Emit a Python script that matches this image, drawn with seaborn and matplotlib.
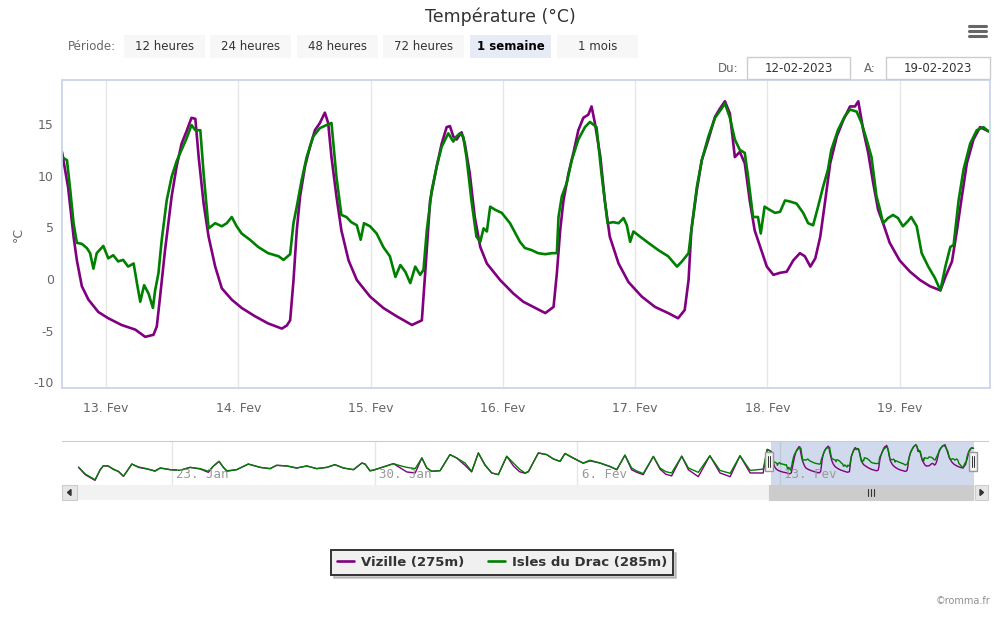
import pandas as pd
import matplotlib
matplotlib.use("Agg")
import matplotlib.pyplot as plt
from matplotlib import font_manager
from matplotlib.patches import Rectangle, Polygon
import seaborn as sns

# --- data --------------------------------------------------------------------
# main week: hours since 12-02-2023 00:00
viz_hours = [16.0, 17.1, 18.1, 18.7, 19.6, 20.8, 22.6, 24.4, 26.8, 29.3,
             31.1, 32.6, 33.2, 33.8, 34.7, 35.9, 36.8, 37.7, 38.6, 39.5,
             40.2, 40.8, 41.7, 42.6, 43.8, 45.0, 46.8, 48.6, 51.0, 53.4,
             55.9, 56.8, 57.4, 58.0, 58.6, 59.2, 60.1, 61.0, 61.9, 62.8,
             63.7, 64.3, 64.9, 65.8, 66.7, 68.0, 69.5, 71.9, 74.3, 76.7,
             79.5, 81.3, 81.9, 82.8, 84.0, 84.9, 85.8, 86.4, 87.0, 87.6,
             88.5, 89.1, 90.0, 90.9, 91.9, 93.1, 95.5, 97.9, 99.7, 101.9,
             103.7, 105.2, 105.8, 106.4, 107.0, 107.9, 108.8, 109.7, 110.6, 111.5,
             112.1, 112.7, 113.7, 114.5, 115.4, 117.0, 118.8, 121.2, 123.6, 126.0,
             127.8, 129.0, 129.7, 130.2, 131.2, 132.1, 133.3, 134.5, 135.4, 136.3,
             137.2, 138.1, 139.0, 139.9, 140.8, 141.7, 142.7, 143.9, 145.1, 146.3,
             147.5, 148.7, 149.9, 150.8, 151.8, 152.7, 153.6, 154.5, 155.4, 156.6,
             157.8, 159.0, 159.9, 160.5, 161.4, 162.3, 163.2, 164.1, 165.0, 166.2,
             168.0, 169.9, 171.7, 173.5, 175.4, 176.3, 177.5, 178.4, 179.3, 180.2,
             181.4, 182.6, 184.1]
viz_temp = [12.3, 8.9, 4.1, 1.8, -0.7, -2.0, -3.2, -3.8, -4.45, -4.9,
            -5.6, -5.4, -4.6, -1.7, 2.8, 8.0, 10.9, 13.1, 14.3, 15.6,
            15.5, 11.8, 7.3, 4.1, 1.2, -0.9, -2.0, -2.8, -3.6, -4.3,
            -4.8, -4.5, -4.0, -0.2, 4.7, 8.0, 10.9, 12.8, 14.4, 15.1,
            16.1, 15.1, 11.8, 8.0, 4.7, 1.8, -0.1, -1.7, -2.8, -3.6,
            -4.45, -4.0, 0.55, 7.6, 10.9, 13.1, 14.7, 14.8, 13.8, 13.5,
            14.2, 13.1, 10.2, 6.0, 3.1, 1.5, -0.1, -1.4, -2.2, -2.8,
            -3.3, -2.7, 0.55, 4.7, 7.6, 10.2, 12.2, 14.4, 15.6, 15.9,
            16.7, 15.1, 11.8, 7.6, 4.1, 1.5, -0.3, -1.7, -2.7, -3.3,
            -3.8, -3.0, -0.1, 4.7, 8.6, 11.5, 13.5, 15.7, 16.5, 17.2,
            16.0, 11.8, 12.3, 11.2, 7.6, 4.7, 3.1, 1.2, 0.4, 0.6,
            0.7, 1.8, 2.5, 2.2, 1.2, 2.0, 4.1, 7.6, 11.2, 13.8,
            15.4, 16.7, 16.7, 17.2, 14.4, 12.2, 9.3, 6.7, 5.4, 3.5,
            1.8, 0.7, -0.1, -0.7, -1.1, 0.2, 1.7, 4.7, 8.0, 11.2,
            13.5, 14.7, 14.3]

drac_hours = [16.0, 16.9, 17.5, 18.1, 18.7, 19.6, 20.5, 21.1, 21.7, 22.3,
              23.5, 24.4, 25.3, 26.2, 27.1, 28.0, 29.0, 29.6, 30.2, 30.9,
              31.7, 32.5, 32.9, 33.5, 34.1, 35.0, 35.9, 36.8, 37.7, 38.6,
              39.5, 40.2, 41.1, 41.7, 42.6, 43.8, 45.0, 45.9, 46.8, 47.7,
              48.6, 50.1, 51.6, 53.4, 55.3, 56.2, 57.4, 58.0, 58.6, 59.5,
              60.4, 61.6, 62.8, 64.0, 64.9, 65.8, 66.7, 67.6, 68.5, 69.5,
              70.2, 70.8, 71.9, 73.1, 74.3, 75.5, 76.5, 77.4, 78.3, 79.2,
              80.1, 81.0, 81.6, 82.2, 83.1, 84.0, 84.9, 86.1, 87.0, 87.6,
              88.2, 88.8, 89.4, 90.3, 91.2, 91.9, 92.5, 93.1, 93.7, 94.6,
              95.8, 97.3, 99.1, 100.0, 101.2, 102.4, 103.7, 104.9, 105.8, 106.1,
              106.7, 107.6, 108.5, 109.7, 110.9, 111.8, 113.0, 113.9, 115.0, 116.0,
              117.0, 117.9, 118.5, 119.1, 119.7, 120.9, 122.4, 124.2, 126.0, 127.6,
              128.5, 129.7, 130.2, 131.2, 132.1, 133.3, 134.5, 135.7, 136.3, 137.2,
              138.1, 139.0, 139.9, 140.5, 141.4, 142.3, 142.8, 143.5, 144.4, 145.4,
              146.3, 147.2, 148.1, 149.3, 150.5, 151.4, 152.3, 153.2, 154.1, 155.0,
              155.6, 156.8, 158.0, 159.0, 160.2, 161.1, 162.0, 162.9, 163.8, 164.4,
              165.0, 165.9, 166.8, 167.7, 168.6, 169.5, 170.1, 171.1, 172.0, 173.2,
              174.4, 175.4, 176.3, 177.2, 177.8, 178.7, 179.6, 180.8, 182.0, 183.2,
              184.1]
drac_temp = [11.8, 11.5, 8.6, 5.4, 3.5, 3.4, 3.0, 2.5, 1.0, 2.5,
             3.2, 2.0, 2.3, 1.7, 1.85, 1.2, 1.5, -0.4, -2.2, -0.6,
             -1.4, -2.8, -1.1, 0.55, 3.8, 7.6, 9.9, 11.4, 12.5, 13.6,
             14.9, 14.4, 14.4, 10.2, 4.9, 5.4, 5.1, 5.4, 6.0, 5.1,
             4.4, 3.8, 3.1, 2.5, 2.2, 1.85, 2.4, 5.4, 7.0, 9.6,
             11.8, 13.8, 14.6, 14.9, 15.1, 9.9, 6.2, 6.0, 5.5, 5.2,
             3.8, 5.4, 5.1, 4.4, 3.1, 2.2, 0.2, 1.35, 0.7, -0.4,
             1.2, 0.4, 0.9, 4.7, 8.6, 10.9, 12.8, 14.1, 13.3, 13.8,
             14.1, 13.8, 11.8, 7.6, 4.1, 3.6, 4.9, 4.6, 7.0, 6.7,
             6.4, 5.4, 3.6, 3.0, 2.8, 2.5, 2.4, 2.5, 2.5, 6.0,
             8.0, 9.3, 11.5, 13.5, 14.7, 15.2, 14.7, 10.2, 5.4, 5.5,
             5.4, 5.9, 5.2, 3.6, 4.6, 4.1, 3.5, 2.8, 2.2, 1.2,
             1.7, 2.5, 4.7, 8.9, 11.5, 13.8, 15.6, 16.5, 17.0, 15.6,
             13.5, 12.5, 12.2, 9.9, 6.0, 6.0, 4.4, 7.0, 6.7, 6.4,
             6.5, 7.6, 7.5, 7.3, 6.4, 5.4, 5.2, 7.0, 8.9, 10.6,
             12.5, 14.4, 15.7, 16.4, 16.2, 15.1, 13.5, 11.8, 8.0, 6.8,
             5.4, 5.9, 6.2, 5.9, 5.1, 5.6, 6.0, 5.1, 2.5, 1.2,
             0.1, -1.1, 1.2, 3.1, 3.3, 7.6, 10.6, 13.1, 14.4, 14.7,
             14.3]

# navigator (earlier month): days since 23-01-2023
nav_days = [-3.22, -2.99, -2.65, -2.47, -2.36, -2.19, -2.01, -1.84, -1.67, -1.55,
            -1.38, -1.15, -0.86, -0.58, -0.40, -0.06, 0.29, 0.63, 0.98, 1.26,
            1.44, 1.63, 1.78, 1.90, 2.24, 2.64, 3.05, 3.39, 3.62, 3.97,
            4.31, 4.66, 5.00, 5.35, 5.63, 5.92, 6.27, 6.56, 6.67, 6.84,
            7.01, 7.19, 7.65, 7.88, 8.11, 8.40, 8.63, 8.80, 8.97, 9.26,
            9.60, 9.83, 10.12, 10.35, 10.58, 10.81, 11.04, 11.27, 11.56, 11.79,
            12.00, 12.19, 12.31, 12.65, 12.94, 13.17, 13.40, 13.57, 13.86, 14.20,
            14.43, 14.78, 15.12, 15.36, 15.64, 15.87, 16.05, 16.27, 16.62, 16.85,
            17.05, 17.25, 17.60, 17.83, 18.17, 18.57, 18.92, 19.27, 19.61, 19.96,
            20.41, 20.55]
nav_drac = [-0.5, -5.8, -10.3, -2.4, 0.7, 0.5, -2.4, -3.7, -7.6, -3.7,
            2.0, -0.3, -1.6, -3.7, -1.1, -2.4, -2.9, -0.6, -1.6, -3.7,
            0.5, 4.1, -0.6, -3.7, -2.4, 2.0, -0.6, -1.6, 1.0, 0.5,
            -1.1, 0.5, -1.6, -0.6, 1.5, -1.1, -2.4, 2.8, 2.0, -3.2,
            -2.4, -1.1, 2.3, 0.7, -0.6, -1.6, 6.8, -1.1, -3.7, -3.2,
            9.4, 6.8, 2.8, -3.7, 10.7, 1.5, -5.0, -6.3, 8.1, 2.8,
            -2.0, -5.0, -3.7, 10.7, 9.4, 6.0, 4.1, 10.3, 6.8, 2.8,
            5.0, 2.8, 0.2, -2.4, 9.0, -1.1, -3.5, -5.5, 8.0, -1.1,
            -4.0, -5.0, 8.2, -1.1, -4.5, 8.5, -3.0, -5.3, 8.5, -3.0,
            -2.0, 13.5]
nav_viz = [-0.5, -6.3, -10.8, -2.4, 0.7, 0.3, -2.0, -3.9, -7.6, -3.7,
           2.0, -0.6, -1.9, -3.3, -1.1, -2.4, -2.9, -0.6, -1.9, -4.5,
           0.5, 4.1, -0.6, -3.3, -2.4, 2.0, -0.6, -1.6, 1.0, 0.5,
           -1.1, 0.5, -1.6, -0.6, 1.5, -1.1, -2.4, 2.8, 2.0, -3.4,
           -2.4, -1.1, 2.3, -1.0, -4.2, -5.0, 6.8, -1.1, -3.7, -3.2,
           9.4, 6.8, 1.0, -4.2, 10.7, 1.0, -5.0, -6.3, 8.1, 0.5,
           -4.0, -5.3, -4.0, 10.7, 9.4, 6.0, 4.1, 10.3, 6.5, 2.6,
           4.5, 2.8, 0.0, -2.4, 9.0, -2.5, -4.5, -6.3, 8.0, -2.0,
           -6.0, -7.3, 8.2, -2.5, -7.9, 8.5, -5.0, -7.9, 8.5, -5.0,
           -5.0, 13.5]

stations = ["Vizille (275m)", "Isles du Drac (285m)"]
colors = ["#800080", "#008000"]
y_ticks = [-10, -5, 0, 5, 10, 15]
day_labels = ["13. Fev", "14. Fev", "15. Fev", "16. Fev", "17. Fev", "18. Fev", "19. Fev"]
week_labels = ["23. Jan", "30. Jan", "6. Fev", "13. Fev"]
buttons = ["12 heures", "24 heures", "48 heures", "72 heures", "1 semaine", "1 mois"]

# --- frames ------------------------------------------------------------------
start = pd.Timestamp("2023-02-12")
nav_start = pd.Timestamp("2023-01-23")

main_df = pd.concat([
    pd.DataFrame({"time": start + pd.to_timedelta(viz_hours, unit="h"),
                  "temp": viz_temp, "station": stations[0]}),
    pd.DataFrame({"time": start + pd.to_timedelta(drac_hours, unit="h"),
                  "temp": drac_temp, "station": stations[1]}),
])
old_df = pd.concat([
    pd.DataFrame({"time": nav_start + pd.to_timedelta(nav_days, unit="D"),
                  "temp": nav_viz, "station": stations[0]}),
    pd.DataFrame({"time": nav_start + pd.to_timedelta(nav_days, unit="D"),
                  "temp": nav_drac, "station": stations[1]}),
])
full_df = pd.concat([old_df, main_df]).sort_values(["station", "time"])
palette = dict(zip(stations, colors))

sns.set_style("white")
plt.rcParams["font.family"] = ["DejaVu Sans"]

# condensed face for the header buttons, if present
installed = {f.name for f in font_manager.fontManager.ttflist}
narrow = "Liberation Sans Narrow" if "Liberation Sans Narrow" in installed else "DejaVu Sans"
narrow_size = 9.5 if narrow != "DejaVu Sans" else 8.5

W, H = 1000, 618
fig = plt.figure(figsize=(10, 6.18), dpi=100)


def box(x0, y0, x1, y1):
    return [x0 / W, 1 - y1 / H, (x1 - x0) / W, (y1 - y0) / H]


def rect(x0, y0, x1, y1, **kw):
    r = Rectangle((x0 / W, 1 - y1 / H), (x1 - x0) / W, (y1 - y0) / H,
                  transform=fig.transFigure, **kw)
    fig.add_artist(r)
    return r


def ftext(x, y, s, **kw):
    fig.text(x / W, 1 - y / H, s, **kw)


# --- main chart --------------------------------------------------------------
ax = fig.add_axes(box(62, 80, 990, 388))
sns.lineplot(data=main_df, x="time", y="temp", hue="station", hue_order=stations,
             palette=palette, linewidth=1.9, estimator=None, ax=ax)
x0 = start + pd.Timedelta(hours=16)
x1 = start + pd.Timedelta(hours=184.4)
ax.set_xlim(x0, x1)
ax.set_ylim(-10.55, 19.26)
ax.set_yticks(y_ticks)
ax.set_yticklabels([str(v) for v in y_ticks])
day_ticks = pd.date_range("2023-02-13", periods=len(day_labels), freq="D")
ax.set_xticks(day_ticks)
ax.set_xticklabels(day_labels)
ax.grid(axis="x", color="#e6e6e6", linewidth=1)
ax.grid(axis="y", visible=False)
for s in ax.spines.values():
    s.set_color("#ccd6eb")
    s.set_linewidth(1.3)
ax.tick_params(axis="x", colors="#666666", labelsize=9, length=6, width=1,
               pad=4, color="#ccd6eb")
ax.tick_params(axis="y", colors="#666666", labelsize=9, length=0, pad=6)
ax.set_xlabel("")
ax.set_ylabel("°C", color="#666666", fontsize=9)
ax.yaxis.set_label_coords(-(62 - 25) / 928, 0.5)
handles, labels = ax.get_legend_handles_labels()
ax.get_legend().remove()

# --- navigator ---------------------------------------------------------------
nav = fig.add_axes(box(62, 441, 988, 485))
sns.lineplot(data=full_df, x="time", y="temp", hue="station", hue_order=stations,
             palette=palette, linewidth=1.0, estimator=None, legend=False, ax=nav)
nav.set_xlim(nav_start + pd.Timedelta(days=-3.79), nav_start + pd.Timedelta(days=28.17))
nav.set_ylim(-14.45, 20.1)
week_ticks = pd.date_range("2023-01-23", periods=len(week_labels), freq="7D")
nav.set_xticks(week_ticks)
nav.set_yticks([])
nav.tick_params(axis="x", labelbottom=False, length=0)
nav.grid(axis="x", color="#e6e6e6", linewidth=1)
nav.set_xlabel("")
nav.set_ylabel("")
for name, s in nav.spines.items():
    s.set_visible(name == "top")
nav.spines["top"].set_color("#cccccc")
for t, lab in zip(week_ticks, week_labels):
    nav.annotate(lab, xy=(t, 0), xycoords=("data", "axes fraction"),
                 xytext=(3, 3), textcoords="offset points", fontsize=9,
                 color="#999999", family="DejaVu Sans Mono", va="bottom")
nav.axvspan(x0, x1, color="#6685c2", alpha=0.3, lw=0)

# navigator handles
for hx in (769, 973):
    rect(hx - 4, 452, hx + 4, 471, facecolor="#f2f2f2", edgecolor="#999999", lw=1, zorder=5)
    for dx in (-1.2, 1.2):
        fig.add_artist(plt.Line2D([(hx + dx) / W] * 2, [1 - 456 / H, 1 - 467 / H],
                                  transform=fig.transFigure, color="#333333", lw=0.7, zorder=6))

# scrollbar
rect(62, 485, 988, 500, facecolor="#f2f2f2", edgecolor="none")
rect(62, 485, 77, 500, facecolor="#e6e6e6", edgecolor="#cccccc", lw=0.8)
rect(975, 485, 988, 500, facecolor="#e6e6e6", edgecolor="#cccccc", lw=0.8)
rect(769, 485, 973, 500, facecolor="#cccccc", edgecolor="#cccccc", lw=0.8)
for gx in (868, 871, 874):
    fig.add_artist(plt.Line2D([gx / W] * 2, [1 - 489 / H, 1 - 496 / H],
                              transform=fig.transFigure, color="#333333", lw=0.8))
fig.add_artist(Polygon([(71 / W, 1 - 489.5 / H), (71 / W, 1 - 495.5 / H), (67.5 / W, 1 - 492.5 / H)],
                       closed=True, transform=fig.transFigure, color="#333333"))
fig.add_artist(Polygon([(980 / W, 1 - 489.5 / H), (980 / W, 1 - 495.5 / H), (983.5 / W, 1 - 492.5 / H)],
                       closed=True, transform=fig.transFigure, color="#333333"))

# --- header ------------------------------------------------------------------
ftext(500, 17, "Température (°C)", ha="center", va="center", fontsize=12.5, color="#333333")
ftext(68, 46, "Période:", ha="left", va="center", fontsize=narrow_size, color="#666666",
      family=narrow)
btn_x = [124, 210, 297, 383, 470, 557]
for bx, lab in zip(btn_x, buttons):
    selected = lab == "1 semaine"
    rect(bx, 35, bx + 81, 58, facecolor="#e6ebf5" if selected else "#f7f7f7", edgecolor="none")
    ftext(bx + 40.5, 46, lab, ha="center", va="center", fontsize=narrow_size,
          color="#000000" if selected else "#333333", family=narrow,
          weight="bold" if selected else "normal")

ftext(728, 68, "Du:", ha="center", va="center", fontsize=narrow_size, color="#666666", family=narrow)
ftext(870, 68, "A:", ha="center", va="center", fontsize=narrow_size, color="#666666", family=narrow)
rect(747, 57, 850, 79, facecolor="white", edgecolor="#cccccc", lw=1)
rect(886, 57, 990, 79, facecolor="white", edgecolor="#cccccc", lw=1)
ftext(798.5, 68, "12-02-2023", ha="center", va="center", fontsize=narrow_size,
      color="#333333", family=narrow)
ftext(938, 68, "19-02-2023", ha="center", va="center", fontsize=narrow_size,
      color="#333333", family=narrow)

for hy in (26, 31, 36):
    fig.add_artist(plt.Line2D([969 / W, 986 / W], [1 - hy / H] * 2,
                              transform=fig.transFigure, color="#666666", lw=2.2))

# --- legend & credit ---------------------------------------------------------
leg = fig.legend(handles, labels, loc="center", bbox_to_anchor=(502 / W, 1 - 562.5 / H),
                 ncol=2, frameon=True, fancybox=False,
                 shadow={"ox": 2, "oy": -2, "color": "#888888", "alpha": 0.4},
                 edgecolor="#333333", facecolor="#f0f0f0", handlelength=1.3,
                 handletextpad=0.5, columnspacing=1.8, borderpad=0.45,
                 prop={"weight": "bold", "size": 9.5})
leg.get_frame().set_linewidth(1.4)
for t in leg.get_texts():
    t.set_color("#333333")

ftext(990, 601, "©romma.fr", ha="right", va="center", fontsize=7, color="#909090")

fig.savefig("out.png", dpi=100)
